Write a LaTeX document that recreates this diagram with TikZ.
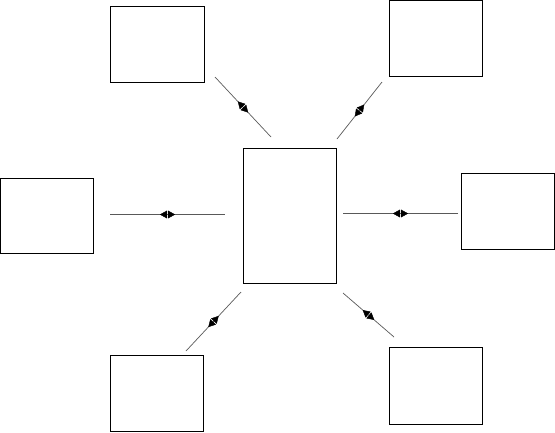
\documentclass[tikz,border=0pt]{standalone}
\usetikzlibrary{calc}
\tikzset{
  boxnode/.style={draw=black,line width=1pt,fill=white},
  conn/.style={draw=black!65,line width=0.7pt},
  headfill/.style={fill=black,draw=black,line width=0.4pt,line join=round}
}
\newcommand{\bx}[5]{\draw[boxnode] (#2,#3) rectangle (#4,#5); \coordinate (#1) at ({(#2+#4)/2},{(#3+#5)/2});}
\newcommand{\onehead}[2]{%
  \coordinate (hb) at ($(#1)!0.7pt!(#2)$);
  \filldraw[headfill] ($(#1)!7.2pt!(#2)$) -- ($(hb)!3.6pt!90:(#2)$) -- ($(hb)!3.6pt!-90:(#2)$) -- cycle;}
\newcommand{\link}[2]{%
  \draw[conn] (#1) -- (#2);
  \coordinate (m) at ($(#1)!0.5!(#2)$);
  \onehead{m}{#1}
  \onehead{m}{#2}}
\begin{document}
\begin{tikzpicture}[x=1pt,y=-1pt]
\useasboundingbox (0,0) rectangle (555,432);
\bx{tl}{110}{6}{204}{82}
\bx{tr}{389}{0.5}{482}{76}
\bx{lf}{0.5}{178}{93}{253}
\bx{rt}{461}{173}{554.5}{249}
\bx{ce}{243}{148}{336}{283}
\bx{bl}{110}{355}{203}{431.5}
\bx{br}{389}{347}{482}{424}
% connector end points
\coordinate (tla) at (215,77);  \coordinate (tlb) at (271,137);
\coordinate (tra) at (382,82);  \coordinate (trb) at (337,139);
\coordinate (lfa) at (110,214.5); \coordinate (lfb) at (225,214.5);
\coordinate (rta) at (458,213.5); \coordinate (rtb) at (343,213.5);
\coordinate (bla) at (186,351); \coordinate (blb) at (241,292);
\coordinate (bra) at (394,337); \coordinate (brb) at (343,293);
\link{tla}{tlb}
\link{tra}{trb}
\link{lfa}{lfb}
\link{rta}{rtb}
\link{bla}{blb}
\link{bra}{brb}
\end{tikzpicture}
\end{document}
